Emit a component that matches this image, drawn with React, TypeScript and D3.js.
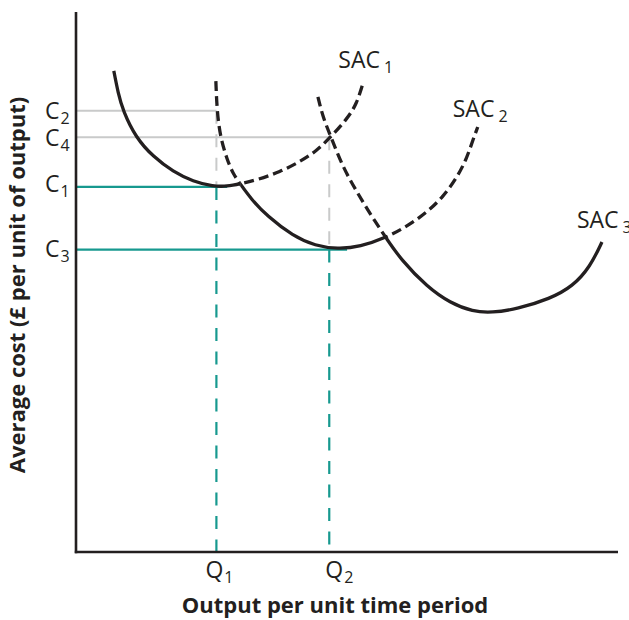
import React from "react";
import * as d3 from "d3";

// ---- data (chart units: 0..100 on both axes) ----
const sac1: [number, number][] = [
  [7.0, 89.1], [7.8, 85.0], [8.7, 81.7], [11.1, 76.7], [14.3, 73.2], [18.0, 70.4],
  [21.7, 68.6], [25.4, 67.7], [28.0, 67.7], [30.4, 68.2], [33.5, 68.9], [37.8, 70.4],
  [41.5, 72.3], [44.6, 74.3], [47.2, 76.9], [50.2, 80.2], [52.0, 83.0], [53.2, 87.0],
];
const sac2: [number, number][] = [
  [25.9, 87.2], [26.1, 81.9], [26.7, 76.9], [28.0, 72.6], [29.1, 70.0], [30.4, 68.2],
  [32.4, 65.4], [35.4, 62.2], [40.2, 58.5], [44.3, 56.7], [48.5, 56.1], [52.6, 56.5],
  [57.4, 58.2], [61.3, 60.3], [65.0, 62.9], [68.0, 65.8], [70.6, 69.4], [72.4, 73.0],
  [73.5, 76.3], [74.4, 78.7],
];
const sac3: [number, number][] = [
  [44.8, 84.3], [45.7, 80.6], [47.2, 76.9], [49.4, 71.3], [52.0, 66.7], [54.6, 62.4],
  [57.4, 58.2], [60.2, 54.1], [65.0, 49.1], [69.3, 46.1], [73.5, 44.5], [77.0, 44.3],
  [81.7, 45.0], [87.8, 46.9], [92.0, 49.2], [95.2, 52.8], [97.4, 57.4],
];
// solid (envelope) x-range of each curve; outside it the curve is dashed
const solidRanges: [number, number][] = [[-10, 30.4], [30.4, 57.4], [57.4, 110]];
const curveNames = ["SAC", "SAC", "SAC"];
const curveSubs = ["1", "2", "3"];

const costLevels = { C1: 67.6, C2: 81.7, C3: 56.0, C4: 76.8 };
const costLabels = ["C2", "C4", "C1", "C3"];
const quantities = { Q1: 26.0, Q2: 46.9 };
const qLabels = ["Q1", "Q2"];

const xTitle = "Output per unit time period";
const yTitle = "Average cost (£ per unit of output)";

// ---- layout ----
const W = 629;
const H = 620;
const FONT = "'Open Sans', 'DejaVu Sans', sans-serif";
const INK = "#231f20";
const TEAL = "#17998f";
const GREY = "#c9caca";

export default function App() {
  const x = d3.scaleLinear().domain([0, 100]).range([76, 616]);
  const y = d3.scaleLinear().domain([0, 100]).range([552, 12]);
  const line = d3
    .line<[number, number]>()
    .x((d) => x(d[0]))
    .y((d) => y(d[1]))
    .curve(d3.curveBasis);

  const curves = [sac1, sac2, sac3];
  const labelOffsets: [number, number][] = [[-25, -14], [-25, -10], [-25, -14]];

  const cVals: Record<string, number> = costLevels as any;
  const cNudge: Record<string, number> = { C2: 8, C4: 8.5, C1: 5, C3: 7.5 };
  const qVals: Record<string, number> = quantities as any;
  const qOffset: Record<string, number> = { Q1: -11, Q2: -4 };

  const { C1, C2, C3, C4 } = costLevels;
  const { Q1, Q2 } = quantities;

  return (
    <svg width={W} height={H} style={{ position: "absolute", left: 0, top: 0, background: "#fff" }}>
      <defs>
        {curves.map((_, i) => {
          const [a, b] = solidRanges[i];
          return (
            <React.Fragment key={i}>
              <clipPath id={`solid${i}`}>
                <rect x={x(a)} y={0} width={x(b) - x(a)} height={H} />
              </clipPath>
              <clipPath id={`dash${i}`}>
                <rect x={0} y={0} width={x(a)} height={H} />
                <rect x={x(b)} y={0} width={W - x(b)} height={H} />
              </clipPath>
            </React.Fragment>
          );
        })}
      </defs>

      {/* guide lines */}
      <line x1={x(0)} x2={x(Q1)} y1={y(C2)} y2={y(C2)} stroke={GREY} strokeWidth={2} />
      <line x1={x(0)} x2={x(Q2)} y1={y(C4)} y2={y(C4)} stroke={GREY} strokeWidth={2} />
      <line x1={x(Q1)} x2={x(Q1)} y1={y(C2)} y2={y(C1)} stroke={GREY} strokeWidth={2} strokeDasharray="13 10.5" />
      <line x1={x(Q2)} x2={x(Q2)} y1={y(C4)} y2={y(C3)} stroke={GREY} strokeWidth={2} strokeDasharray="13 10.5" />
      <line x1={x(0)} x2={x(28)} y1={y(C1)} y2={y(C1)} stroke={TEAL} strokeWidth={2.2} />
      <line x1={x(0)} x2={x(50.2)} y1={y(C3)} y2={y(C3)} stroke={TEAL} strokeWidth={2.2} />
      <line x1={x(Q1)} x2={x(Q1)} y1={y(C1)} y2={y(0)} stroke={TEAL} strokeWidth={2.2} strokeDasharray="13 10.5" />
      <line x1={x(Q2)} x2={x(Q2)} y1={y(C3)} y2={y(0)} stroke={TEAL} strokeWidth={2.2} strokeDasharray="13 10.5" />

      {/* curves */}
      {curves.map((pts, i) => (
        <g key={i} fill="none" stroke={INK} strokeWidth={3.3}>
          <path d={line(pts) || ""} clipPath={`url(#solid${i})`} />
          <path d={line(pts) || ""} clipPath={`url(#dash${i})`} strokeDasharray="10 5" />
        </g>
      ))}

      {/* curve labels */}
      {curves.map((pts, i) => {
        const end = pts[pts.length - 1];
        const [dx, dy] = labelOffsets[i];
        return (
          <text key={i} x={x(end[0]) + dx} y={y(end[1]) + dy} fontFamily={FONT} fontSize={23} fill={INK}>
            {curveNames[i]}
            <tspan dx={4} dy={5} fontSize={16}>{curveSubs[i]}</tspan>
          </text>
        );
      })}

      {/* axes */}
      <line x1={x(0)} x2={x(0)} y1={y(100)} y2={y(0) + 1.2} stroke={INK} strokeWidth={2.6} />
      <line x1={x(0) - 1.2} x2={x(100) + 2} y1={y(0)} y2={y(0)} stroke={INK} strokeWidth={2.6} />

      {/* cost labels */}
      {costLabels.map((lab) => (
        <text key={lab} x={45} y={y(cVals[lab]) + cNudge[lab]} fontFamily={FONT} fontSize={23} fill={INK}>
          {lab[0]}
          <tspan dx={1} dy={5} fontSize={16}>{lab.slice(1)}</tspan>
        </text>
      ))}

      {/* quantity labels */}
      {qLabels.map((lab) => (
        <text key={lab} x={x(qVals[lab]) + qOffset[lab]} y={578} fontFamily={FONT} fontSize={23} fill={INK}>
          {lab[0]}
          <tspan dx={1} dy={5} fontSize={16}>{lab.slice(1)}</tspan>
        </text>
      ))}

      {/* axis titles */}
      <text x={335} y={613} textAnchor="middle" fontFamily={FONT} fontWeight="bold" fontSize={22} fill={INK}>
        {xTitle}
      </text>
      <text
        transform="translate(25,285) rotate(-90)"
        textAnchor="middle"
        fontFamily={FONT}
        fontWeight="bold"
        fontSize={22}
        fill={INK}
      >
        {yTitle}
      </text>
    </svg>
  );
}
